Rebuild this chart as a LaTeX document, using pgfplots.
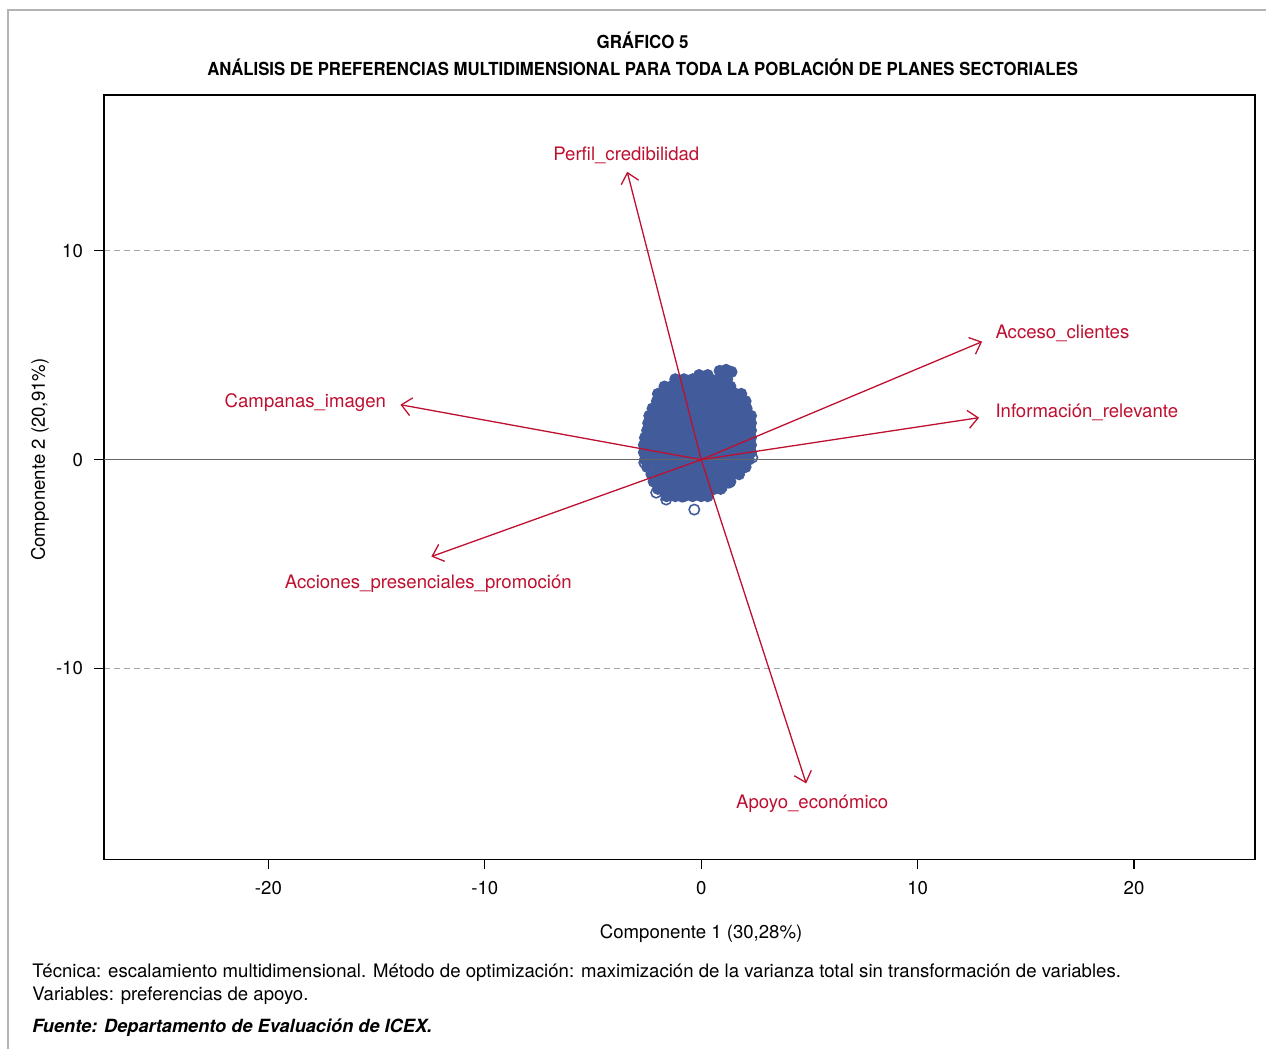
\documentclass[border=0pt]{standalone}
\usepackage{pgfplots}
\pgfplotsset{compat=1.18}
\usepackage{fontspec}
\setmainfont{TeX Gyre Heros}
\usetikzlibrary{arrows.meta}
\definecolor{ptblue}{RGB}{66,91,155}
\definecolor{arred}{RGB}{190,16,48}
\definecolor{framegray}{RGB}{180,180,180}
\begin{document}
\begin{tikzpicture}[x=1pt,y=1pt]
\path (0,0) rectangle (633.5,525);
\draw[framegray, line width=0.8pt] (4,0) -- (4,520) -- (633.5,520);
\begin{axis}[
  at={(52pt,95pt)}, anchor=south west,
  scale only axis, width=576pt, height=382.5pt,
  xmin=-27.6, xmax=25.6, ymin=-19.14, ymax=17.46,
  xtick={-20,-10,0,10,20}, ytick={-10,0,10},
  xtick pos=bottom, ytick pos=left, tick align=outside,
  major tick length=5pt,
  axis line style={line width=0.75pt},
  every tick/.style={black, line width=0.6pt},
  ymajorgrids, grid style={gray!70, dash pattern=on 3pt off 2pt, line width=0.5pt},
  tick label style={font=\fontsize{9.3}{11}\selectfont},
  xticklabel style={yshift=-2.5pt},
  yticklabel style={xshift=-2pt},
  /pgf/number format/assume math mode=true,
  clip=false, clip marker paths=true,
]
% point cloud (filled interior)
\addplot[only marks, mark=*, mark size=2.6pt, color=ptblue, mark options={line width=0.8pt, fill=ptblue, draw=ptblue}] coordinates {
(0.85,4.25) (1.15,4.3) (1.4,4.2) (-0.1,4.05) (0.3,4.05)
(-1.2,3.85) (-0.8,3.85) (-0.4,3.85) (0,3.85) (0.4,3.85) (0.8,3.85) (1.2,3.85)
(-1.7,3.5) (-1.4,3.5) (-1.0,3.5) (-0.6,3.5) (-0.2,3.5) (0.2,3.5) (0.6,3.5) (1.0,3.5) (1.35,3.5)
(-2.0,3.15) (-1.6,3.15) (-1.2,3.15) (-0.8,3.15) (-0.4,3.15) (0,3.15) (0.4,3.15) (0.8,3.15) (1.2,3.15) (1.6,3.15) (1.85,3.15)
(-2.05,2.8) (-1.8,2.8) (-1.4,2.8) (-1.0,2.8) (-0.6,2.8) (-0.2,2.8) (0.2,2.8) (0.6,2.8) (1.0,2.8) (1.4,2.8) (1.8,2.8) (2.05,2.8)
(-2.25,2.45) (-2.0,2.45) (-1.6,2.45) (-1.2,2.45) (-0.8,2.45) (-0.4,2.45) (0,2.45) (0.4,2.45) (0.8,2.45) (1.2,2.45) (1.6,2.45) (2.0,2.45) (2.1,2.45)
(-2.4,2.1) (-2.2,2.1) (-1.8,2.1) (-1.4,2.1) (-1.0,2.1) (-0.6,2.1) (-0.2,2.1) (0.2,2.1) (0.6,2.1) (1.0,2.1) (1.4,2.1) (1.8,2.1) (2.2,2.1) (2.3,2.1)
(-2.45,1.75) (-2.0,1.75) (-1.6,1.75) (-1.2,1.75) (-0.8,1.75) (-0.4,1.75) (0,1.75) (0.4,1.75) (0.8,1.75) (1.2,1.75) (1.6,1.75) (2.0,1.75) (2.3,1.75)
(-2.5,1.4) (-2.2,1.4) (-1.8,1.4) (-1.4,1.4) (-1.0,1.4) (-0.6,1.4) (-0.2,1.4) (0.2,1.4) (0.6,1.4) (1.0,1.4) (1.4,1.4) (1.8,1.4) (2.2,1.4) (2.3,1.4)
(-2.6,1.05) (-2.4,1.05) (-2.0,1.05) (-1.6,1.05) (-1.2,1.05) (-0.8,1.05) (-0.4,1.05) (0,1.05) (0.4,1.05) (0.8,1.05) (1.2,1.05) (1.6,1.05) (2.0,1.05) (2.3,1.05)
(-2.65,0.7) (-2.2,0.7) (-1.8,0.7) (-1.4,0.7) (-1.0,0.7) (-0.6,0.7) (-0.2,0.7) (0.2,0.7) (0.6,0.7) (1.0,0.7) (1.4,0.7) (1.8,0.7) (2.2,0.7) (2.3,0.7)
(-2.65,0.35) (-2.4,0.35) (-2.0,0.35) (-1.6,0.35) (-1.2,0.35) (-0.8,0.35) (-0.4,0.35) (0,0.35) (0.4,0.35) (0.8,0.35) (1.2,0.35) (1.6,0.35) (2.0,0.35) (2.3,0.35)
(-2.6,0) (-2.2,0) (-1.8,0) (-1.4,0) (-1.0,0) (-0.6,0) (-0.2,0) (0.2,0) (0.6,0) (1.0,0) (1.4,0) (1.8,0) (2.2,0)
(-2.5,-0.35) (-2.0,-0.35) (-1.6,-0.35) (-1.2,-0.35) (-0.8,-0.35) (-0.4,-0.35) (0,-0.35) (0.4,-0.35) (0.8,-0.35) (1.2,-0.35) (1.6,-0.35) (2.0,-0.35) (2.05,-0.35)
(-2.3,-0.7) (-1.8,-0.7) (-1.4,-0.7) (-1.0,-0.7) (-0.6,-0.7) (-0.2,-0.7) (0.2,-0.7) (0.6,-0.7) (1.0,-0.7) (1.4,-0.7) (1.75,-0.7)
(-2.2,-1.05) (-2.0,-1.05) (-1.6,-1.05) (-1.2,-1.05) (-0.8,-1.05) (-0.4,-1.05) (0,-1.05) (0.4,-1.05) (0.8,-1.05) (1.2,-1.05) (1.35,-1.05)
(-2.0,-1.4) (-1.8,-1.4) (-1.4,-1.4) (-1.0,-1.4) (-0.6,-1.4) (-0.2,-1.4) (0.2,-1.4) (0.6,-1.4) (0.9,-1.4)
(-1.6,-1.75) (-1.2,-1.75) (-0.8,-1.75) (-0.4,-1.75) (0,-1.75) (0.3,-1.75)
};
% edge points (open circles)
\addplot[only marks, mark=o, mark size=2.6pt, color=ptblue, mark options={line width=0.8pt}] coordinates {
(-2.63,-0.14) (-2.26,0.14) (-2.03,0.1) (-2.08,-1.58) (-1.62,-1.91) (-0.88,-1.77) (-0.32,-2.39) (2.36,0.1) (1.29,-1.1) (0.97,-1.29)
};
\draw[gray!80!black, line width=0.6pt] (axis cs:-27.6,0) -- (axis cs:25.6,0);
% arrows
\addplot[arred, line width=0.65pt, -{Straight Barb[length=5pt,width=9pt,line width=0.65pt]}] coordinates {(0,0) (-3.42,13.78)};
\addplot[arred, line width=0.65pt, -{Straight Barb[length=5pt,width=9pt,line width=0.65pt]}] coordinates {(0,0) (12.98,5.65)};
\addplot[arred, line width=0.65pt, -{Straight Barb[length=5pt,width=9pt,line width=0.65pt]}] coordinates {(0,0) (12.84,2.01)};
\addplot[arred, line width=0.65pt, -{Straight Barb[length=5pt,width=9pt,line width=0.65pt]}] coordinates {(0,0) (-13.9,2.63)};
\addplot[arred, line width=0.65pt, -{Straight Barb[length=5pt,width=9pt,line width=0.65pt]}] coordinates {(0,0) (-12.47,-4.64)};
\addplot[arred, line width=0.65pt, -{Straight Barb[length=5pt,width=9pt,line width=0.65pt]}] coordinates {(0,0) (4.85,-15.5)};
\begin{scope}[every node/.style={text=arred, font=\fontsize{9.3}{11}\selectfont, inner sep=0pt}]
\node[anchor=center] at (axis cs:-3.46,14.59) {Perfil\_credibilidad};
\node[anchor=west] at (axis cs:13.58,6.03) {Acceso\_clientes};
\node[anchor=west] at (axis cs:13.58,2.25) {Información\_relevante};
\node[anchor=east] at (axis cs:-14.55,2.73) {Campanas\_imagen};
\node[anchor=center] at (axis cs:-12.61,-5.93) {Acciones\_presenciales\_promoción};
\node[anchor=center] at (axis cs:5.13,-16.46) {Apoyo\_económico};
\end{scope}
\end{axis}
\node[font=\fontsize{9}{11}\selectfont\bfseries] at (321.5,505) {\scalebox{0.94}[1]{GRÁFICO 5}};
\node[font=\fontsize{9}{11}\selectfont\bfseries] at (321.5,491.5) {\scalebox{0.93}[1]{ANÁLISIS DE PREFERENCIAS MULTIDIMENSIONAL PARA TODA LA POBLACIÓN DE PLANES SECTORIALES}};
\node[font=\fontsize{9.3}{11}\selectfont] at (350.75,58) {Componente 1 (30,28\%)};
\node[font=\fontsize{9.3}{11}\selectfont, rotate=90] at (20,295) {Componente 2 (20,91\%)};
\node[font=\fontsize{9.3}{11}\selectfont, anchor=west, inner sep=0pt] at (16,38.5) {Técnica: escalamiento multidimensional. Método de optimización: maximización de la varianza total sin transformación de variables.};
\node[font=\fontsize{9.3}{11}\selectfont, anchor=west, inner sep=0pt] at (16,27) {Variables: preferencias de apoyo.};
\node[font=\fontsize{9.1}{11}\selectfont\bfseries\itshape, anchor=west, inner sep=0pt] at (16,11) {Fuente: Departamento de Evaluación de ICEX.};
\end{tikzpicture}
\end{document}
